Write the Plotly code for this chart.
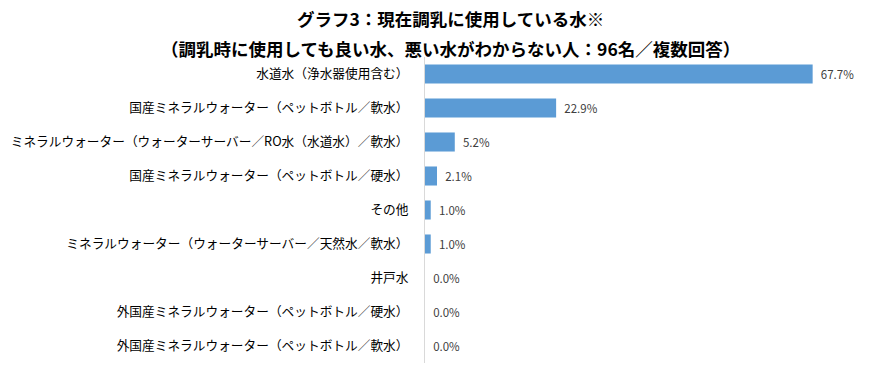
import plotly.graph_objects as go

categories = [
    "水道水（浄水器使用含む）",
    "国産ミネラルウォーター（ペットボトル／軟水）",
    "ミネラルウォーター（ウォーターサーバー／RO水（水道水）／軟水）",
    "国産ミネラルウォーター（ペットボトル／硬水）",
    "その他",
    "ミネラルウォーター（ウォーターサーバー／天然水／軟水）",
    "井戸水",
    "外国産ミネラルウォーター（ペットボトル／硬水）",
    "外国産ミネラルウォーター（ペットボトル／軟水）",
]
values = [67.7, 22.9, 5.2, 2.1, 1.0, 1.0, 0.0, 0.0, 0.0]
title_lines = [
    "グラフ3：現在調乳に使用している水※",
    "（調乳時に使用しても良い水、悪い水がわからない人：96名／複数回答）",
]

FONT = "Noto Sans CJK JP, Meiryo, sans-serif"
W, H = 869, 374
ML, MR, MT, MB = 425, 26, 57, 11
PW, PH = W - ML - MR, H - MT - MB


def px(x):
    return (x - ML) / PW


def py(y):
    return (H - MB - y) / PH


fig = go.Figure()
fig.add_trace(go.Bar(
    y=categories,
    x=values,
    orientation="h",
    marker=dict(color="#5B9BD5", line=dict(width=0)),
    text=["\u00a0\u00a0" + f"{v:.1f}%" for v in values],
    textposition="outside",
    textfont=dict(size=11.5, color="#404040", family=FONT),
    cliponaxis=False,
    hoverinfo="skip",
))

fig.update_layout(
    width=W,
    height=H,
    paper_bgcolor="white",
    plot_bgcolor="white",
    margin=dict(l=ML, r=MR, t=MT, b=MB, autoexpand=False),
    bargap=0.44,
    showlegend=False,
    font=dict(family=FONT, color="#000000"),
    annotations=[
        dict(text="<b>" + title_lines[0] + "</b>", x=px(450), y=py(18),
             xref="paper", yref="paper", xanchor="center", yanchor="middle",
             showarrow=False, font=dict(size=17.5, family=FONT, color="#000000")),
        dict(text="<b>" + title_lines[1] + "</b>", x=px(450), y=py(48),
             xref="paper", yref="paper", xanchor="center", yanchor="middle",
             showarrow=False, font=dict(size=17.5, family=FONT, color="#000000")),
    ],
)
fig.update_xaxes(
    range=[0, 73],
    showgrid=False,
    showticklabels=False,
    zeroline=False,
    showline=False,
    ticks="",
)
fig.update_yaxes(
    categoryorder="array",
    categoryarray=categories,
    autorange="reversed",
    automargin=False,
    showgrid=False,
    showline=True,
    linecolor="#D9D9D9",
    linewidth=1,
    ticks="",
    ticklabelstandoff=13,
    tickfont=dict(size=12.7, color="#000000", family=FONT),
)

fig.write_html(
    "out.html",
    config={"displayModeBar": False},
    post_script="document.body.style.margin='0';document.body.style.overflow='hidden';",
)
